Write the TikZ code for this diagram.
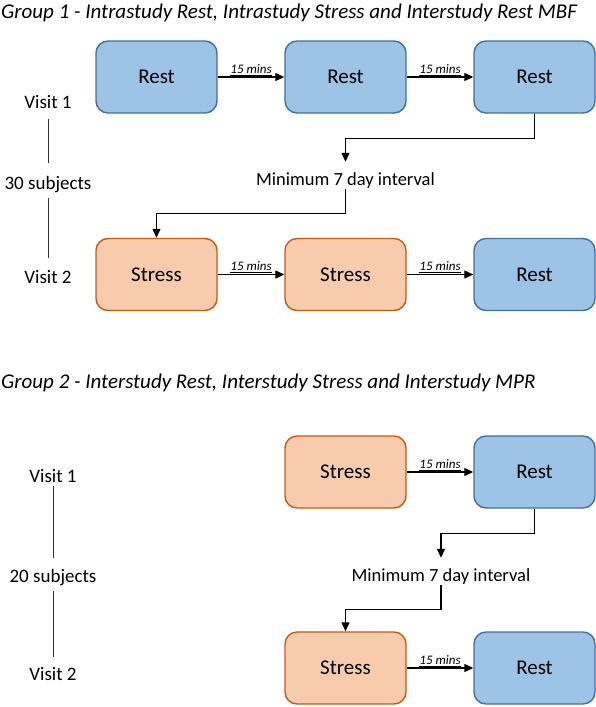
\documentclass[tikz,border=0pt]{standalone}
\usepackage{fontspec}
\setmainfont{Carlito}
\usetikzlibrary{arrows.meta,calc}
\definecolor{restfill}{HTML}{9DC3E6}
\definecolor{restdraw}{HTML}{41719C}
\definecolor{stressfill}{HTML}{F8CBAD}
\definecolor{stressdraw}{HTML}{C55A11}
\tikzset{
  box/.style={rounded corners=12pt, minimum width=121pt, minimum height=72pt, line width=1.4pt, font=\fontsize{21}{25}\selectfont, inner sep=0pt},
  restbox/.style={box, fill=restfill, draw=restdraw},
  stressbox/.style={box, fill=stressfill, draw=stressdraw},
  arr/.style={line width=1.3pt, -{Triangle[length=9pt,width=8pt]}},
  mins/.style={font=\fontsize{13}{15}\selectfont\itshape, above, inner sep=1pt},
  lbl/.style={font=\fontsize{19}{22}\selectfont, inner sep=0pt, anchor=base},
  intlbl/.style={font=\fontsize{18.5}{22}\selectfont, inner sep=0pt, anchor=base, text height=13pt, text depth=4pt},
  titlelbl/.style={font=\fontsize{21}{25}\selectfont\itshape, inner sep=0pt, anchor=base west},
  vline/.style={line width=0.9pt, draw=black!80},
}
\begin{document}
\begin{tikzpicture}[x=1pt,y=-1pt]
\useasboundingbox (0,0) rectangle (596,707);
% Group 1
\node[titlelbl] (t1) at (1,18) {Group 1 - Intrastudy Rest, Intrastudy Stress and Interstudy Rest MBF};
\node[restbox] (a1) at (156.5,77) {Rest};
\node[restbox] (a2) at (345.5,77) {Rest};
\node[restbox] (a3) at (534.5,77) {Rest};
\draw[arr] (a1) -- node[mins]{\underline{15 mins}} (a2);
\draw[arr] (a2) -- node[mins]{\underline{15 mins}} (a3);
\node[intlbl] (i1) at (345.5,185) {Minimum 7 day interval};
\node[stressbox] (b1) at (156.5,274.5) {Stress};
\node[stressbox] (b2) at (345.5,274.5) {Stress};
\node[restbox] (b3) at (534.5,274.5) {Rest};
\draw[arr] (b1) -- node[mins]{\underline{15 mins}} (b2);
\draw[arr] (b2) -- node[mins]{\underline{15 mins}} (b3);
\draw[arr] (a3.south) -- ++(0,25) -| ([yshift=10pt]i1.north);
\draw[arr] (i1.south) -- ++(0,24) -| (b1.north);
\node[lbl] (g1v1) at (48,108) {Visit 1};
\node[lbl] (g1n) at (48,189) {30 subjects};
\node[lbl] (g1v2) at (48,283) {Visit 2};
\draw[vline] ($(g1v1.base)+(0,11)$) -- ($(g1n.base)+(0,-26)$);
\draw[vline] ($(g1n.base)+(0,9)$) -- ($(g1v2.base)+(0,-25)$);
% Group 2
\node[titlelbl] (t2) at (1,388) {Group 2 - Interstudy Rest, Interstudy Stress and Interstudy MPR};
\node[stressbox] (c2) at (345.5,472) {Stress};
\node[restbox] (c3) at (534.5,472) {Rest};
\draw[arr] (c2) -- node[mins]{\underline{15 mins}} (c3);
\node[intlbl] (i2) at (441,581) {Minimum 7 day interval};
\node[stressbox] (d2) at (345.5,668) {Stress};
\node[restbox] (d3) at (534.5,668) {Rest};
\draw[arr] (d2) -- node[mins]{\underline{15 mins}} (d3);
\draw[arr] (c3.south) -- ++(0,25) -| ([yshift=10pt]i2.north);
\draw[arr] (i2.south) -- ++(0,24) -| (d2.north);
\node[lbl] (g2v1) at (53,482) {Visit 1};
\node[lbl] (g2n) at (53,582) {20 subjects};
\node[lbl] (g2v2) at (53,680) {Visit 2};
\draw[vline] ($(g2v1.base)+(0,4)$) -- ($(g2n.base)+(0,-24)$);
\draw[vline] ($(g2n.base)+(0,9)$) -- ($(g2v2.base)+(0,-23)$);
\end{tikzpicture}
\end{document}
